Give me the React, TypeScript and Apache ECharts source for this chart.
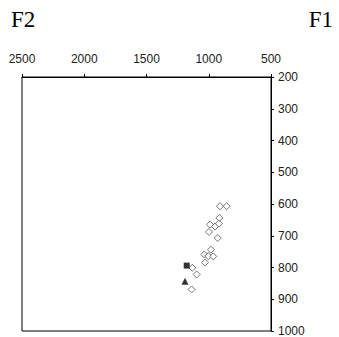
import React, { useEffect, useRef } from "react";
import * as echarts from "echarts";

// Open diamonds: [F2, F1]
const diamondF2 = [910, 856, 915, 990, 950, 918, 998, 928, 982, 1036, 1004, 964, 1030, 1132, 1097, 1137];
const diamondF1 = [607, 607, 644, 665, 671, 662, 688, 707, 744, 759, 764, 765, 784, 801, 822, 869];
// Filled square
const squareF2 = [1177];
const squareF1 = [794];
// Filled triangle
const triangleF2 = [1191];
const triangleF1 = [843];

const xTicks = [500, 1000, 1500, 2000, 2500];
const yTicks = [200, 300, 400, 500, 600, 700, 800, 900, 1000];

const zip = (a: number[], b: number[]) => a.map((v, i) => [v, b[i]]);

export default function App() {
  const ref = useRef<HTMLDivElement>(null);
  useEffect(() => {
    if (!ref.current) return;
    const chart = echarts.init(ref.current, null, { renderer: "svg" });
    const labelStyle = {
      fontFamily: "Liberation Sans, Arial, sans-serif",
      fontSize: 12,
      color: "#222",
      formatter: (v: number) => String(v),
    };
    const titleStyle = {
      fontFamily: "Liberation Serif, Times New Roman, serif",
      fontSize: 23,
      fontWeight: "normal",
      color: "#000",
    };
    chart.setOption({
      animation: false,
      backgroundColor: "#fff",
      title: [
        { text: "F2", left: 6, top: 3, textStyle: titleStyle },
        { text: "F1", right: 1, top: 3, textStyle: titleStyle },
      ],
      grid: { left: 22, right: 68, top: 77, bottom: 5.5, show: true, borderColor: "#000", borderWidth: 1, backgroundColor: "transparent" },
      xAxis: {
        type: "value",
        position: "top",
        inverse: true,
        min: xTicks[0],
        max: xTicks[xTicks.length - 1],
        interval: 500,
        axisLine: { show: true, lineStyle: { color: "#000", width: 1 } },
        axisTick: { show: true, length: 3, inside: false, lineStyle: { color: "#000" } },
        axisLabel: { ...labelStyle, margin: 12 },
        splitLine: { show: false },
      },
      yAxis: {
        type: "value",
        position: "right",
        inverse: true,
        min: yTicks[0],
        max: yTicks[yTicks.length - 1],
        interval: 100,
        axisLine: { show: true, lineStyle: { color: "#000", width: 1 } },
        axisTick: { show: true, length: 3, inside: false, lineStyle: { color: "#000" } },
        axisLabel: { ...labelStyle, margin: 7 },
        splitLine: { show: false },
      },
      series: [
        {
          type: "scatter",
          data: zip(diamondF2, diamondF1),
          symbol: "diamond",
          symbolSize: 7,
          itemStyle: { color: "#fff", borderColor: "#555", borderWidth: 1 },
          z: 2,
        },
        {
          type: "scatter",
          data: zip(squareF2, squareF1),
          symbol: "rect",
          symbolSize: 6,
          itemStyle: { color: "#000" },
          z: 3,
        },
        {
          type: "scatter",
          data: zip(triangleF2, triangleF1),
          symbol: "triangle",
          symbolSize: 7,
          itemStyle: { color: "#000" },
          z: 3,
        },
      ],
    });
    return () => chart.dispose();
  }, []);
  return (
    <div
      ref={ref}
      style={{ position: "fixed", left: 0, top: 0, width: 339, height: 337 }}
    />
  );
}
